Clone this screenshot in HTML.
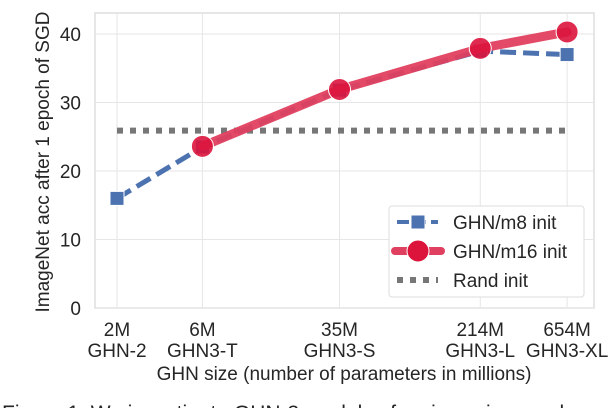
<!DOCTYPE html>
<html><head><meta charset="utf-8"><style>
body{margin:0;background:#fff;width:612px;height:408px;overflow:hidden;font-family:"Liberation Sans",sans-serif}
svg text{font-family:"Liberation Sans",sans-serif;fill:#262626}
</style></head><body>
<svg width="612" height="408" id="c">
<rect x="95" y="13" width="499" height="295" fill="#fff" stroke="#ddd" stroke-width="1.5"/>
<g id="grid"></g><g id="series"></g>
<text x="344" y="380" font-size="19" text-anchor="middle">GHN size (number of parameters in millions)</text>
<text transform="translate(49,162) rotate(-90)" font-size="19" text-anchor="middle">ImageNet acc after 1 epoch of SGD</text>
<g>
<rect x="389" y="206" width="195" height="91" rx="3" fill="#fff" stroke="#ddd"/>
<line x1="397" y1="222" x2="438" y2="222" stroke="#4c72b0" stroke-width="4" stroke-dasharray="12,5"/>
<rect x="411" y="215" width="14" height="14" fill="#4c72b0" stroke="#fff" stroke-width="1"/>
<text x="453" y="229" font-size="19">GHN/m8 init</text>
<line x1="395" y1="251" x2="441" y2="251" stroke="#e0405f" stroke-width="8" stroke-linecap="round"/>
<circle cx="418" cy="251" r="11" fill="#dc143c" stroke="#fff" stroke-width="1"/>
<text x="453" y="258" font-size="19">GHN/m16 init</text>
<line x1="397" y1="280" x2="438" y2="280" stroke="#777" stroke-width="6" stroke-dasharray="6,7"/>
<text x="453" y="287" font-size="19">Rand init</text>
</g>
<text x="2" y="420" font-size="21" fill="#333">Figure 1: We investigate GHN-3 models of various sizes and compare</text>
</svg>
<script>
const categories=["2M","6M","35M","214M","654M"];
const catNames=["GHN-2","GHN3-T","GHN3-S","GHN3-L","GHN3-XL"];
const params=[2,6,35,214,654];
const m8=[16,23.5,31.8,37.5,37];
const m16=[null,23.6,31.9,37.9,40.3];
const randInit=[25.9];
const yTicks=[0,10,20,30,40];
const NS="http://www.w3.org/2000/svg";
const xs=p=>117+(Math.log10(p)-Math.log10(2))*179;
const ys=v=>308-v*6.85;
function mk(t,a,parent){const e=document.createElementNS(NS,t);for(const k in a)e.setAttribute(k,a[k]);parent.appendChild(e);return e;}
const g=document.getElementById('grid'),s=document.getElementById('series');
yTicks.forEach(v=>{
 const l=mk('line',{x1:95,x2:594,y1:ys(v),y2:ys(v),stroke:'#e6e6e6'},g);
 
 
 const t=mk('text',{x:81,y:ys(v)+7,'font-size':19,'text-anchor':'end'},g);t.textContent=v;
 
 
});
params.forEach((p,i)=>{
 const l=mk('line',{x1:xs(p),x2:xs(p),y1:13,y2:308,stroke:'#e6e6e6'},g);
 
 
 const t=mk('text',{x:xs(p),y:336,'font-size':19,'text-anchor':'middle'},g);t.textContent=categories[i];
 
 
 const t2=mk('text',{x:xs(p),y:357,'font-size':19,'text-anchor':'middle'},g);t2.textContent=catNames[i];
 
 
});
const r=mk('line',{x1:xs(2),x2:xs(640),y1:ys(randInit[0]),y2:ys(randInit[0]),stroke:'#777','stroke-width':6,'stroke-dasharray':'6,7'},s);


const pts8=params.map((p,i)=>xs(p)+','+ys(m8[i])).join(' ');
const l8=mk('polyline',{points:pts8,fill:'none',stroke:'#4c72b0','stroke-width':5,'stroke-dasharray':'16,7'},s);


params.forEach((p,i)=>{const q=mk('rect',{x:xs(p)-7,y:ys(m8[i])-7,width:14,height:14,fill:'#4c72b0',stroke:'#fff'},s);
 
 });
const pts16=params.map((p,i)=>m16[i]==null?null:xs(p)+','+ys(m16[i])).filter(x=>x).join(' ');
const l16=mk('polyline',{points:pts16,fill:'none',stroke:'#e0405f','stroke-width':9,'stroke-linejoin':'round','stroke-linecap':'round','stroke-opacity':0.95},s);


params.forEach((p,i)=>{if(m16[i]==null)return;const c=mk('circle',{cx:xs(p),cy:ys(m16[i]),r:11,fill:'#dc143c',stroke:'#fff','stroke-width':1,'fill-opacity':0.9},s);
 
 });
</script>
</body></html>
